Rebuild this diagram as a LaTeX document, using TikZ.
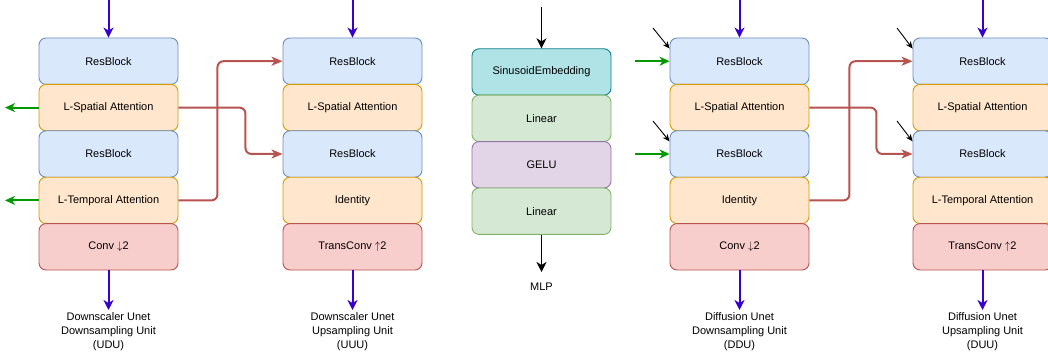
\documentclass[tikz,border=0pt]{standalone}
\usepackage{fontspec}
\setmainfont{Liberation Sans}
\usetikzlibrary{arrows.meta}
\definecolor{resfill}{HTML}{DAE8FC}\definecolor{resline}{HTML}{6C8EBF}
\definecolor{attfill}{HTML}{FFE6CC}\definecolor{attline}{HTML}{D79B00}
\definecolor{convfill}{HTML}{F8CECC}\definecolor{convline}{HTML}{B85450}
\definecolor{linfill}{HTML}{D5E8D4}\definecolor{linline}{HTML}{82B366}
\definecolor{gelufill}{HTML}{E1D5E7}\definecolor{geluline}{HTML}{9673A6}
\definecolor{sinfill}{HTML}{B0E3E6}\definecolor{sinline}{HTML}{0E8088}
\definecolor{flowblue}{HTML}{3700CC}
\definecolor{skipred}{HTML}{B85450}
\definecolor{embgreen}{HTML}{009900}
\begin{document}
\begin{tikzpicture}[x=1pt,y=-1pt,
  block/.style={draw, rounded corners=7pt, minimum width=139pt, minimum height=46.4pt,
    inner sep=0pt, line width=0.9pt, font=\fontsize{11}{13}\selectfont},
  res/.style={block, fill=resfill, draw=resline},
  att/.style={block, fill=attfill, draw=attline},
  conv/.style={block, fill=convfill, draw=convline},
  lin/.style={block, fill=linfill, draw=linline},
  gelu/.style={block, fill=gelufill, draw=geluline},
  sin/.style={block, fill=sinfill, draw=sinline},
  caption/.style={align=center, font=\fontsize{11}{14}\selectfont, inner xsep=0pt, inner ysep=2pt, anchor=north},
  flow/.style={draw=flowblue, line width=2pt, -{Stealth[length=10pt,width=10pt,inset=3pt]}},
  mlpflow/.style={draw=black, line width=1.8pt, -{Stealth[length=10pt,width=10pt,inset=3pt]}},
  skip/.style={draw=skipred, line width=2pt, rounded corners=6pt, -{Stealth[length=11pt,width=9pt,inset=3pt]}},
  emb/.style={draw=embgreen, line width=2pt, -{Stealth[length=10pt,width=9pt,inset=3pt]}},
  tick/.style={draw=black, line width=0.9pt, -{Stealth[length=7pt,width=6pt,inset=2pt]}}]
\clip (0,0) rectangle (1048,358);
\fill[white] (0,0) rectangle (1048,358);

% Downscaler Unet downsampling unit
\node[res]  (a1) at (108.5,61.2)  {ResBlock};
\node[att]  (a2) at (108.5,107.6) {L-Spatial Attention};
\node[res]  (a3) at (108.5,154)   {ResBlock};
\node[att]  (a4) at (108.5,200.4) {L-Temporal Attention};
\node[conv] (a5) at (108.5,246.8) {Conv $\downarrow$2};
\coordinate (a0) at (108.5,0);
\node[caption] (acap) at (108.5,310) {Downscaler Unet\\Downsampling Unit\\(UDU)};
\draw[flow] (a0) -- (a1.north);
\draw[flow] (a5.south) -- (acap.north);
\coordinate (ag1) at (5,107.6);
\coordinate (ag2) at (5,200.4);
\draw[emb] (a2.west) -- (ag1);
\draw[emb] (a4.west) -- (ag2);

% Downscaler Unet upsampling unit
\node[res]  (b1) at (352.5,61.2)  {ResBlock};
\node[att]  (b2) at (352.5,107.6) {L-Spatial Attention};
\node[res]  (b3) at (352.5,154)   {ResBlock};
\node[att]  (b4) at (352.5,200.4) {Identity};
\node[conv] (b5) at (352.5,246.8) {TransConv $\uparrow$2};
\coordinate (b0) at (352.5,0);
\node[caption] (bcap) at (352.5,310) {Downscaler Unet\\Upsampling Unit\\(UUU)};
\draw[flow] (b0) -- (b1.north);
\draw[flow] (b5.south) -- (bcap.north);

\draw[skip] (a4.east) -- ++(39,0) |- (b1.west);
\draw[skip] (a2.east) -- ++(67,0) |- (b3.west);

% Time embedding MLP
\node[sin]  (m1) at (541.5,72)    {SinusoidEmbedding};
\node[lin]  (m2) at (541.5,118.4) {Linear};
\node[gelu] (m3) at (541.5,164.8) {GELU};
\node[lin]  (m4) at (541.5,211.2) {Linear};
\coordinate (m0) at (541.5,7);
\node[caption, inner ysep=11pt] (mcap) at (541.5,272) {MLP};
\draw[mlpflow] (m0) -- (m1.north);
\draw[mlpflow] (m4.south) -- (mcap.north);

% Diffusion Unet downsampling unit
\node[res]  (c1) at (739.5,61.2)  {ResBlock};
\node[att]  (c2) at (739.5,107.6) {L-Spatial Attention};
\node[res]  (c3) at (739.5,154)   {ResBlock};
\node[att]  (c4) at (739.5,200.4) {Identity};
\node[conv] (c5) at (739.5,246.8) {Conv $\downarrow$2};
\coordinate (c0) at (739.5,0);
\node[caption] (ccap) at (739.5,310) {Diffusion Unet\\Downsampling Unit\\(DDU)};
\draw[flow] (c0) -- (c1.north);
\draw[flow] (c5.south) -- (ccap.north);
\coordinate (cg1) at (635,61.2);
\coordinate (cg2) at (635,154);
\draw[emb] (cg1) -- (c1.west);
\draw[emb] (cg2) -- (c3.west);
\coordinate (ct1) at (653,28);
\coordinate (ct2) at (653,121);
\draw[tick] (ct1) -- ([yshift=-11pt]c1.north west);
\draw[tick] (ct2) -- ([yshift=-11pt]c3.north west);

% Diffusion Unet upsampling unit
\node[res]  (d1) at (982.5,61.2)  {ResBlock};
\node[att]  (d2) at (982.5,107.6) {L-Spatial Attention};
\node[res]  (d3) at (982.5,154)   {ResBlock};
\node[att]  (d4) at (982.5,200.4) {L-Temporal Attention};
\node[conv] (d5) at (982.5,246.8) {TransConv $\uparrow$2};
\coordinate (d0) at (982.5,0);
\node[caption] (dcap) at (982.5,310) {Diffusion Unet\\Upsampling Unit\\(DUU)};
\draw[flow] (d0) -- (d1.north);
\draw[flow] (d5.south) -- (dcap.north);
\coordinate (dt1) at (897,28);
\coordinate (dt2) at (897,121);
\draw[tick] (dt1) -- ([yshift=-11pt]d1.north west);
\draw[tick] (dt2) -- ([yshift=-11pt]d3.north west);

\draw[skip] (c4.east) -- ++(40,0) |- (d1.west);
\draw[skip] (c2.east) -- ++(67,0) |- (d3.west);
\end{tikzpicture}
\end{document}
